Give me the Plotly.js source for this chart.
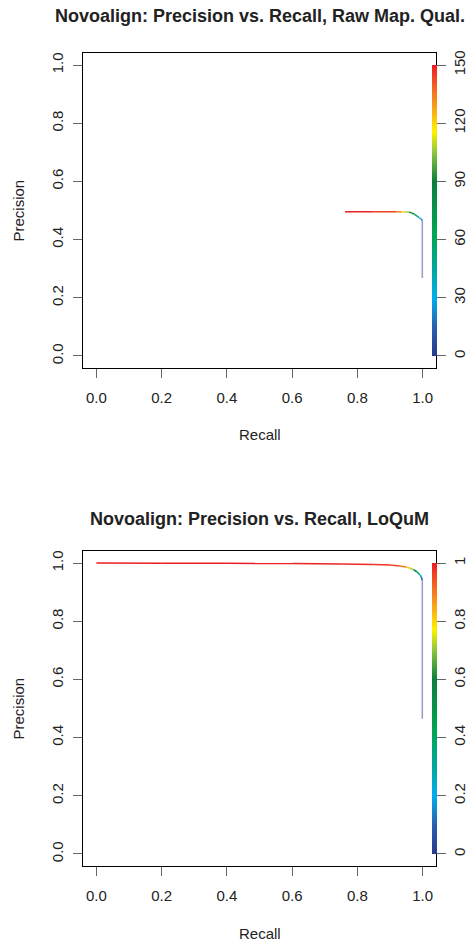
<!DOCTYPE html>
<html>
<head>
<meta charset="utf-8">
<script src="https://cdn.plot.ly/plotly-3.0.1.min.js"></script>
<style>html,body{margin:0;padding:0;background:#fff;}#chart{width:471px;height:941px;}</style>
</head>
<body>
<div id="chart"></div>
<script>
// ---- data ----
var titleTop = "Novoalign: Precision vs. Recall, Raw Map. Qual.";
var titleBottom = "Novoalign: Precision vs. Recall, LoQuM";
var xLabel = "Recall";
var yLabel = "Precision";

var axisTicks = [0, 0.2, 0.4, 0.6, 0.8, 1.0];

// Top panel: raw mapping quality cutoffs
var topRecall    = [0.762, 0.850, 0.920, 0.935, 0.948, 0.958, 0.966, 0.975, 0.983, 0.990, 0.996, 0.999, 0.999];
var topPrecision = [0.496, 0.496, 0.496, 0.495, 0.495, 0.494, 0.492, 0.487, 0.481, 0.475, 0.470, 0.465, 0.268];
var topCutoff    = [150, 148, 140, 128, 115, 100, 85, 70, 55, 38, 20, 5, 0];
var topCbTicks   = [0, 30, 60, 90, 120, 150];
var topCbLabels  = ["0", "30", "60", "90", "120", "150"];

// Bottom panel: LoQuM cutoffs
var botRecall    = [0.000, 0.200, 0.400, 0.600, 0.750, 0.850, 0.900, 0.930, 0.950, 0.962, 0.972, 0.982, 0.990, 0.996, 0.999, 0.999];
var botPrecision = [1.000, 0.9995, 0.999, 0.998, 0.997, 0.995, 0.993, 0.990, 0.986, 0.982, 0.977, 0.970, 0.962, 0.952, 0.940, 0.465];
var botCutoff    = [1.00, 0.999, 0.998, 0.995, 0.99, 0.98, 0.97, 0.93, 0.86, 0.78, 0.65, 0.50, 0.30, 0.15, 0.03, 0.00];
var botCbTicks   = [0, 0.2, 0.4, 0.6, 0.8, 1];
var botCbLabels  = ["0", "0.2", "0.4", "0.6", "0.8", "1"];

// ---- styling ----
var W = 471, H = 941;
var FONT = "Liberation Sans, Arial, sans-serif";
var colorscale = [
  [0.00, '#2b3a8e'], [0.10, '#2860ae'], [0.20, '#00aeef'], [0.30, '#00a79d'],
  [0.42, '#00a651'], [0.60, '#0b7f3c'], [0.70, '#8dc63f'], [0.77, '#fff200'],
  [0.87, '#f7941d'], [1.00, '#ed1c24']
];
function hexToRgb(h){return [parseInt(h.substr(1,2),16),parseInt(h.substr(3,2),16),parseInt(h.substr(5,2),16)];}
function colorAt(t){
  t = Math.max(0, Math.min(1, t));
  for (var i = 1; i < colorscale.length; i++) {
    if (t <= colorscale[i][0]) {
      var a = colorscale[i-1], b = colorscale[i];
      var f = (t - a[0]) / (b[0] - a[0] || 1);
      var ca = hexToRgb(a[1]), cb = hexToRgb(b[1]);
      return 'rgb(' + [0,1,2].map(function(k){return Math.round(ca[k] + (cb[k]-ca[k])*f);}).join(',') + ')';
    }
  }
  return colorscale[colorscale.length-1][1];
}

function py(p){ return 1 - p / H; }
var boxL = 83.3, boxR = 435.7;
var topBox = [53.4, 367.6], botBox = [551.4, 865.6];

function segTraces(rec, prec, cut, cmax, xa, ya) {
  var out = [];
  for (var i = 0; i < rec.length - 1; i++) {
    var v = (cut[i] + cut[i+1]) / 2 / cmax;
    var tail = rec[i] === rec[i+1];
    out.push({
      type: 'scatter', mode: 'lines', x: [rec[i], rec[i+1]], y: [prec[i], prec[i+1]],
      xaxis: xa, yaxis: ya, hoverinfo: 'skip', showlegend: false,
      opacity: tail ? 0.5 : 1,
      line: {color: colorAt(tail ? 0 : v), width: 1.5}
    });
  }
  return out;
}
function scaleTrace(rec, prec, cut, cmax, xa, ya, cy) {
  return {
    type: 'scatter', mode: 'markers', x: rec, y: prec, xaxis: xa, yaxis: ya,
    hoverinfo: 'skip', showlegend: false,
    marker: {
      size: 1, opacity: 0, color: cut, cmin: 0, cmax: cmax, colorscale: colorscale,
      showscale: true,
      colorbar: {
        thickness: 4.5, thicknessmode: 'pixels', len: 291, lenmode: 'pixels',
        x: 431.7 / W, xanchor: 'left', xpad: 0, ypad: 0,
        y: py(cy), yanchor: 'middle', outlinewidth: 0,
        showticklabels: false, ticks: ''
      }
    }
  };
}

var traces = []
  .concat(segTraces(topRecall, topPrecision, topCutoff, 150, 'x', 'y'))
  .concat(segTraces(botRecall, botPrecision, botCutoff, 1, 'x2', 'y2'));
traces.push(scaleTrace(topRecall, topPrecision, topCutoff, 150, 'x', 'y', 210.5));
traces.push(scaleTrace(botRecall, botPrecision, botCutoff, 1, 'x2', 'y2', 708.5));

var tickFont = {family: FONT, size: 15, color: '#222'};
function xAxis(anchor) {
  return {
    domain: [boxL / W, boxR / W], anchor: anchor, range: [-0.04, 1.04],
    tickvals: axisTicks, tickformat: '.1f', ticks: 'outside', ticklen: 9, tickwidth: 1,
    tickcolor: '#666', ticklabelstandoff: 7, tickfont: tickFont,
    showline: true, mirror: true, linecolor: '#000', linewidth: 1,
    showgrid: false, zeroline: false, fixedrange: true
  };
}
function yAxis(anchor, box) {
  return {
    domain: [py(box[1]), py(box[0])], anchor: anchor, range: [-0.04, 1.04],
    tickvals: axisTicks, tickformat: '.1f', tickangle: -90, ticks: 'outside', ticklen: 9,
    tickwidth: 1, tickcolor: '#666', ticklabelstandoff: 4, tickfont: tickFont,
    showline: true, mirror: true, linecolor: '#000', linewidth: 1,
    showgrid: false, zeroline: false, fixedrange: true
  };
}
function rAxis(over, anchor, vals, labels, cmax) {
  return {
    overlaying: over, side: 'right', anchor: anchor, range: [-0.04 * cmax, 1.04 * cmax],
    tickvals: vals, ticktext: labels, tickangle: -90, ticks: 'outside', ticklen: 9,
    tickwidth: 1, tickcolor: '#666', ticklabelstandoff: 1, tickfont: tickFont,
    showline: false, showgrid: false, zeroline: false, fixedrange: true
  };
}

function ann(text, x, y, opts) {
  var a = {text: text, xref: 'paper', yref: 'paper', x: x / W, y: py(y),
           xanchor: 'center', yanchor: 'middle', showarrow: false,
           font: {family: FONT, size: 15, color: '#222'}};
  for (var k in opts) a[k] = opts[k];
  return a;
}
var cx = (boxL + boxR) / 2;
var annotations = [
  ann('<b>' + titleTop + '</b>', cx, 16, {font: {family: FONT, size: 18, color: '#222'}}),
  ann('<b>' + titleBottom + '</b>', cx, 519, {font: {family: FONT, size: 18, color: '#222'}}),
  ann(xLabel, cx, 435, {}),
  ann(xLabel, cx, 933, {}),
  ann(yLabel, 18, 210.5, {textangle: -90}),
  ann(yLabel, 18, 708.5, {textangle: -90})
];

var layout = {
  width: W, height: H, margin: {l: 0, r: 0, t: 0, b: 0, autoexpand: false},
  paper_bgcolor: '#fff', plot_bgcolor: '#fff', showlegend: false,
  font: {family: FONT},
  xaxis: xAxis('y'), yaxis: yAxis('x', topBox),
  xaxis2: xAxis('y2'), yaxis2: yAxis('x2', botBox),
  yaxis3: rAxis('y', 'x', topCbTicks, topCbLabels, 150),
  yaxis4: rAxis('y2', 'x2', botCbTicks, botCbLabels, 1),
  annotations: annotations
};
traces.push({type: 'scatter', x: [null], y: [null], xaxis: 'x', yaxis: 'y3', showlegend: false, hoverinfo: 'skip'});
traces.push({type: 'scatter', x: [null], y: [null], xaxis: 'x2', yaxis: 'y4', showlegend: false, hoverinfo: 'skip'});

Plotly.newPlot('chart', traces, layout, {staticPlot: true, displayModeBar: false});
</script>
</body>
</html>
